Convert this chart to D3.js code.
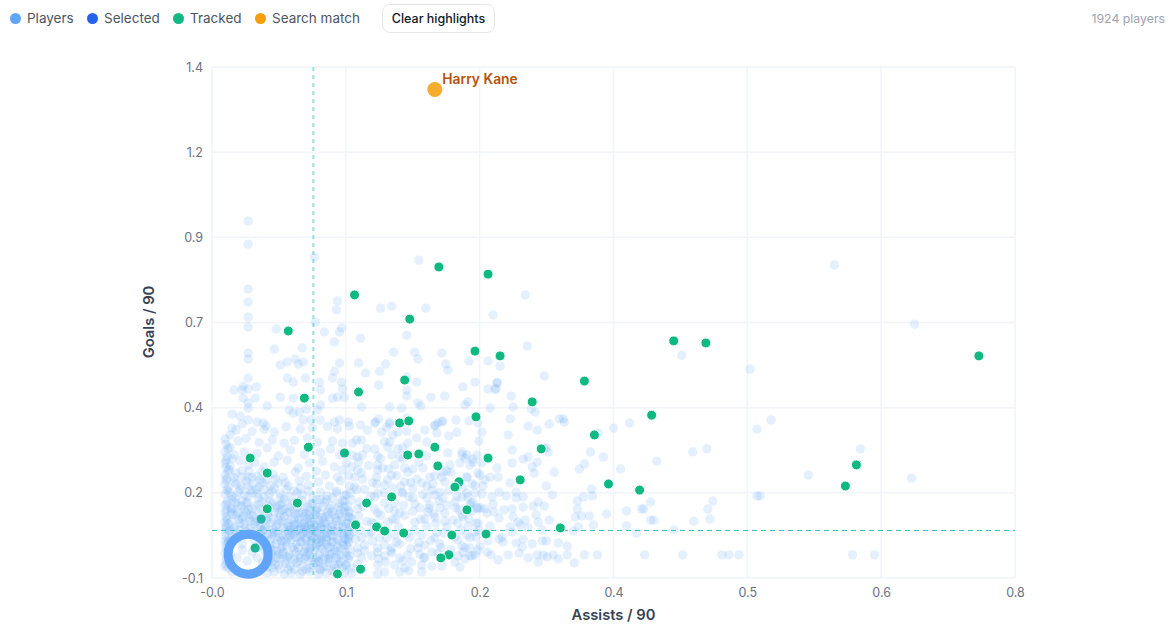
<!DOCTYPE html>
<html>
<head>
<meta charset="utf-8">
<script src="https://cdn.jsdelivr.net/npm/d3@7/dist/d3.min.js"></script>
<style>
body{margin:0;background:#fff;font-family:Inter,"Noto Sans",sans-serif;overflow:hidden;}
#chart{position:absolute;left:0;top:0;}
.legend{position:absolute;top:10px;left:10px;height:16px;font-size:13.5px;color:#4b5563;}
.legend span{position:absolute;top:0;line-height:16px;white-space:nowrap;}
.legend i{position:absolute;top:3px;width:11px;height:11px;border-radius:50%;}
button{position:absolute;left:382px;top:4px;width:113px;height:29px;padding:0;background:#fff;border:1px solid #e5e7eb;border-radius:8px;font:500 12.5px Inter,sans-serif;color:#111827;white-space:nowrap;}
.count{position:absolute;right:9px;top:11px;font-size:12.3px;color:#9ca3af;}
.tick-label{font-size:12.5px;fill:#6b7280;}
.axis-title{font-size:14.7px;font-weight:600;fill:#374151;}
</style>
</head>
<body>
<div class="legend" id="legend"></div>
<button>Clear highlights</button>
<div class="count">1924 players</div>
<svg id="chart" width="1174" height="631"></svg>
<script>
var legendLabels = ["Players","Selected","Tracked","Search match"];
var legendColors = ["#60a5fa","#2563eb","#10b981","#f59e0b"];
var xTickLabels = ["-0.0","0.1","0.2","0.4","0.5","0.6","0.8"];
var yTickLabels = ["-0.1","0.2","0.4","0.7","0.9","1.2","1.4"];
var medianAssists = 0.101, medianGoals = 0.0395;

// [assists/90, goals/90]
var playersTop = [[.036,.948],[.036,.880],[.102,.842],[.206,.833],[.125,.713],[.124,.687],[.168,.692],[.179,.698],[.213,.692],[.280,.672],[.036,.748],[.036,.710],[.036,.666],[.036,.637],[.064,.631],[.103,.651],[.112,.622],[.129,.634],[.127,.622],[.148,.604],[.122,.593],[.194,.613],[.062,.572],[.090,.575],[.036,.560],[.036,.543],[.083,.543],[.075,.534],[.068,.525],[.086,.528],[.091,.534],[.127,.531],[.146,.531],[.181,.563],[.202,.563],[.205,.543],[.229,.560],[.233,.528],[.235,.510],[.256,.537],[.275,.537],[.173,.528],[.167,.507],[.153,.502],[.122,.507],[.120,.487],[.107,.475],[.093,.487],[.081,.475],[.075,.487],[.036,.487],[.031,.463],[.036,.455],[.044,.461],[.022,.452],[.030,.452],[.129,.475],[.108,.452],[.130,.455],[.166,.466],[.194,.490],[.204,.475],[.194,.452],[.194,.434],[.218,.431],[.232,.434],[.250,.461],[.262,.475],[.275,.455],[.283,.455],[.284,.475],[.031,.428],[.043,.428],[.068,.431],[.081,.428],[.125,.431],[.132,.431],[.120,.428],[.108,.408],[.036,.414],[.036,.399],[.055,.405],[.077,.393],[.094,.396],[.105,.393],[.149,.402],[.177,.402],[.189,.399],[.205,.414],[.208,.405],[.252,.408],[.255,.417],[.277,.399],[.020,.381],[.028,.375],[.036,.364],[.081,.384],[.087,.387],[.091,.364],[.099,.364],[.108,.364],[.045,.358],[.051,.355],[.054,.346],[.122,.358],[.127,.364],[.136,.358],[.163,.358],[.166,.367],[.177,.352],[.243,.364],[.230,.361],[.225,.355],[.222,.346],[.256,.361],[.265,.355],[.194,.370]];
var playersRight = [[.312,.731],[.314,.581],[.287,.522],[.331,.493],[.284,.472],[.282,.455],[.298,.434],[.300,.402],[.318,.396],[.322,.387],[.297,.367],[.346,.367],[.350,.367],[.351,.358],[.336,.352],[.315,.346],[.324,.334],[.295,.320],[.400,.340],[.416,.355],[.468,.554],[.536,.513],[.557,.364],[.543,.337],[.385,.326],[.299,.276],[.331,.282],[.377,.270],[.479,.270],[.493,.279],[.620,.819],[.700,.645],[.646,.279],[.594,.202],[.697,.193],[.638,-.032],[.660,-.032],[.546,.141],[.266,.302],[.310,.249],[.315,.255],[.324,.240],[.333,.282],[.335,.270],[.390,.255],[.443,.243],[.299,.238],[.284,.223],[.319,.226],[.321,.208],[.341,.211],[.366,.220],[.371,.235],[.407,.220],[.297,.179],[.333,.170],[.378,.161],[.370,.138],[.379,.141],[.339,.144],[.364,.126],[.437,.123],[.499,.126],[.494,.103],[.543,.141],[.364,.103],[.393,.088],[.413,.097],[.428,.103],[.430,.103],[.368,.082],[.376,.082],[.362,.079],[.336,.070],[.325,.064],[.437,.070],[.440,.070],[.480,.067],[.496,.073],[.413,.053],[.380,.056],[.365,.050],[.360,.038],[.460,.041],[.423,.032],[.345,.003],[.354,-.006],[.329,.009],[.333,.009],[.319,.000],[.303,.003],[.309,-.009],[.354,-.032],[.371,-.032],[.384,-.032],[.431,-.032],[.469,-.032],[.508,-.032],[.515,-.032],[.525,-.032],[.361,-.056],[.345,-.044],[.340,-.032],[.334,-.038],[.330,-.032],[.325,-.053],[.324,-.032],[.315,-.041],[.306,-.027],[.295,-.032],[.285,-.047],[.278,-.032],[.274,-.024],[.262,-.032],[.259,-.035],[.252,-.044],[.247,-.068],[.267,-.006],[.290,.006],[.286,.014],[.275,.009],[.310,.014],[.299,.035],[.289,.020],[.329,.041],[.315,.047],[.307,.056],[.297,.050],[.277,.053],[.263,.020],[.254,.026],[.312,.070],[.305,.064],[.300,.079],[.286,.076],[.281,.094],[.291,.100],[.299,.103],[.310,.108],[.320,.111],[.325,.123],[.331,.111],[.323,.085],[.274,.091],[.263,.061],[.265,.103],[.272,.103],[.280,.117],[.279,.138],[.286,.152],[.293,.141],[.303,.152],[.303,.135],[.310,.138],[.267,.202],[.272,.188],[.277,.196],[.285,.196],[.259,.176],[.262,.173],[.270,.170],[.269,.147],[.254,.149],[.249,.138],[.250,.079],[.260,.240],[.252,.252],[.249,.261],[.264,.261],[.254,.196]];
var playersMiddle = [[.148,.349],[.137,.346],[.162,.355],[.177,.358],[.155,.334],[.169,.328],[.174,.343],[.185,.328],[.194,.331],[.222,.349],[.229,.358],[.212,.334],[.224,.326],[.236,.317],[.244,.328],[.269,.328],[.144,.305],[.140,.296],[.149,.305],[.177,.299],[.175,.284],[.162,.279],[.195,.296],[.204,.311],[.214,.299],[.185,.279],[.190,.282],[.145,.255],[.150,.261],[.165,.258],[.179,.261],[.187,.255],[.214,.258],[.235,.267],[.249,.270],[.254,.261],[.260,.249],[.257,.232],[.269,.238],[.134,.238],[.139,.226],[.149,.208],[.145,.217],[.142,.196],[.165,.232],[.165,.217],[.170,.223],[.182,.232],[.192,.223],[.200,.220],[.210,.223],[.237,.232],[.247,.238],[.164,.196],[.179,.202],[.195,.211],[.217,.196],[.234,.214],[.229,.196],[.254,.196],[.265,.208],[.137,.170],[.142,.167],[.152,.161],[.175,.188],[.172,.173],[.192,.182],[.200,.164],[.209,.179],[.232,.182],[.245,.173],[.162,.138],[.165,.149],[.180,.164],[.189,.152],[.200,.135],[.190,.149],[.219,.158],[.227,.152],[.222,.144],[.230,.135],[.214,.135],[.242,.123],[.255,.138],[.260,.123],[.139,.129],[.134,.144],[.147,.123],[.172,.120],[.191,.114],[.202,.117],[.217,.114],[.234,.114],[.243,.106],[.257,.114],[.264,.106],[.132,.109],[.137,.091],[.145,.103],[.162,.103],[.165,.091],[.182,.097],[.187,.091],[.207,.106],[.215,.094],[.221,.088],[.227,.106],[.249,.085],[.259,.097],[.267,.106],[.139,.073],[.159,.064],[.175,.064],[.183,.073],[.202,.064],[.212,.073],[.223,.061],[.232,.067],[.245,.061],[.255,.053],[.265,.061],[.137,.026],[.141,.035],[.149,.018],[.159,.035],[.167,.018],[.182,.026],[.197,.018],[.209,.026],[.222,.018],[.231,.032],[.245,.012],[.257,.018],[.262,.035],[.134,-.003],[.145,-.012],[.152,-.003],[.165,-.012],[.172,-.003],[.179,-.012],[.187,.000],[.205,-.012],[.212,-.003],[.219,-.024],[.227,.000],[.249,-.006],[.257,-.012],[.265,-.018],[.137,-.035],[.145,-.027],[.149,-.041],[.159,-.035],[.165,-.024],[.172,-.035],[.179,-.027],[.187,-.041],[.195,-.032],[.207,-.030],[.211,-.041],[.225,-.027],[.245,-.035],[.250,-.024],[.257,-.035],[.134,-.062],[.139,-.071],[.145,-.059],[.165,-.062],[.173,-.053],[.182,-.062],[.192,-.071],[.199,-.053],[.209,-.062],[.219,-.065],[.229,-.065],[.242,-.053],[.139,-.085],[.165,-.088],[.172,-.082],[.187,-.082],[.196,-.079],[.209,-.082]];
var playersLeft = [[.013,.308],[.020,.340],[.030,.352],[.040,.330],[.052,.336],[.062,.329],[.074,.344],[.088,.337],[.100,.340],[.115,.345],[.125,.338],
[.014,.293],[.018,.284],[.026,.302],[.034,.310],[.047,.298],[.060,.305],[.072,.296],[.082,.304],[.095,.311],[.105,.298],[.120,.302],[.130,.296],
[.013,.270],[.015,.255],[.022,.262],[.032,.270],[.045,.265],[.055,.282],[.066,.258],[.078,.276],[.092,.262],[.108,.268],[.118,.279],[.127,.262],
[.013,.238],[.018,.229],[.028,.244],[.036,.232],[.043,.238],[.052,.226],[.062,.240],[.075,.246],[.086,.223],[.097,.238],[.110,.243],[.122,.226],[.130,.217],
[.013,.202],[.016,.214],[.024,.208],[.030,.196],[.037,.214],[.045,.199],[.050,.212],[.061,.205],[.071,.196],[.083,.211],[.094,.199],[.104,.214],[.113,.202],[.125,.196],
[.013,.176],[.014,.188],[.022,.182],[.029,.170],[.034,.185],[.041,.176],[.047,.167],[.054,.188],[.066,.179],[.076,.170],[.087,.185],[.096,.173],[.106,.182],[.117,.170],[.128,.185],
[.013,.147],[.015,.158],[.020,.140],[.026,.152],[.032,.144],[.038,.158],[.045,.147],[.052,.138],[.060,.155],[.068,.147],[.077,.138],[.082,.155],[.090,.144],[.100,.135],[.108,.152],[.115,.141],[.124,.155],[.132,.144],
[.013,.114],[.015,.126],[.019,.103],[.024,.120],[.029,.111],[.035,.123],[.040,.103],[.047,.117],[.058,.126],[.064,.106],[.070,.120],[.078,.111],[.085,.123],[.091,.103],[.098,.117],[.105,.106],[.112,.123],[.119,.111],[.127,.120],
[.013,.091],[.014,.079],[.019,.094],[.024,.085],[.030,.073],[.034,.094],[.041,.082],[.047,.091],[.056,.079],[.062,.094],[.068,.082],[.075,.091],[.082,.073],[.086,.088],[.092,.079],[.098,.097],[.103,.085],[.110,.076],[.115,.094],[.122,.085],[.130,.079],[.136,.097],
[.013,.064],[.014,.053],[.019,.067],[.023,.050],[.028,.061],[.033,.047],[.038,.067],[.046,.056],[.052,.044],[.058,.061],[.064,.050],[.070,.067],[.076,.053],[.081,.044],[.087,.061],[.092,.050],[.097,.067],[.102,.056],[.108,.044],[.113,.061],[.119,.050],[.124,.067],[.130,.053],[.136,.061],
[.013,.035],[.014,.023],[.018,.041],[.024,.029],[.040,.035],[.045,.023],[.051,.038],[.056,.026],[.062,.035],[.067,.020],[.073,.038],[.078,.026],[.083,.035],[.088,.023],[.094,.038],[.099,.026],[.104,.035],[.109,.020],[.115,.032],[.120,.023],[.125,.038],[.131,.029],[.136,.020],
[.013,.009],[.014,-.003],[.018,.012],[.048,.006],[.053,-.006],[.058,.012],[.064,.000],[.069,.009],[.074,-.006],[.079,.012],[.084,.000],[.089,.006],[.094,-.009],[.099,.009],[.104,-.003],[.109,.012],[.114,.000],[.119,.006],[.125,-.009],[.130,.003],[.135,.012],
[.013,-.027],[.014,-.015],[.015,-.041],[.030,-.018],[.040,-.024],[.055,-.032],[.061,-.018],[.066,-.032],[.071,-.024],[.077,-.032],[.082,-.015],[.087,-.032],[.092,-.024],[.097,-.032],[.102,-.018],[.107,-.032],[.112,-.024],[.117,-.032],[.122,-.018],[.128,-.032],[.133,-.024],
[.014,-.059],[.016,-.071],[.025,-.041],[.035,-.050],[.045,-.041],[.050,-.056],[.055,-.068],[.060,-.053],[.066,-.062],[.073,-.050],[.078,-.065],[.084,-.056],[.090,-.065],[.096,-.050],[.101,-.062],[.106,-.050],[.111,-.068],[.117,-.056],[.122,-.065],[.128,-.053],[.133,-.062],
[.020,-.082],[.055,-.085],[.062,-.082],[.072,-.088],[.079,-.085],[.088,-.088],[.097,-.082],[.106,-.088],[.114,-.085],[.120,-.079],[.132,-.085]];
// second pass over the dense patch left of 0.14 assists
var playersDense = [[.014,.100],[.020,.130],[.026,.090],[.032,.100],[.037,.076],[.042,.058],[.048,.030],[.054,.070],[.060,.032],[.066,.070],[.072,.012],[.078,.050],[.084,.060],[.090,.030],[.096,.056],[.102,.020],[.108,.060],[.114,.020],[.120,.040],[.126,.010],[.132,.030],[.088,.044],[.100,.044],[.112,.042],[.076,.034],[.094,.012],[.106,.004],[.118,-.008],[.086,-.012],[.098,-.012],[.110,-.014],[.124,-.022],[.070,-.008],[.064,-.020],[.058,-.012],[.050,.012],[.020,.020],[.016,.060],[.028,.040],[.034,.120],[.040,.150],[.046,.135],[.052,.160],[.070,.100],[.082,.100],[.094,.090],[.104,.100],[.116,.086],[.128,.100],[.016,.165],[.022,.195],[.030,.215],[.040,.195],[.050,.180],[.058,.170],[.068,.135],[.074,.160],[.088,.165],[.096,.155],[.108,.130],[.120,.135],[.132,.125],[.014,.225],[.020,.250],[.016,.280],[.018,.320],[.024,.335],[.014,.045],[.016,.010],[.018,-.030],[.018,-.060],[.052,-.020],[.058,-.044],[.068,-.044],[.082,-.045],[.092,-.044],[.104,-.040],[.116,-.044],[.126,-.044],[.136,-.044],[.060,-.070],[.076,-.075],[.094,-.074],[.108,-.076],[.124,-.072],[.136,.006],[.138,.050],[.136,.080],[.020,.105],[.027,.072],[.033,.025],[.042,.012],[.047,.072],[.056,.096],[.065,.112]];
// third pass, the darker core of the cloud
var playersCore = [[.015,.072],[.017,.038],[.015,.118],[.017,.152],[.015,.192],[.017,.218],[.014,.246],[.016,.004],[.014,-.048],[.016,-.020],[.013,-.066],[.022,.044],[.025,.016],[.021,.088],[.026,.112],[.023,.135],[.028,.160],[.024,.176],[.032,.058],[.031,.082],[.030,.126],[.034,.035],[.036,.101],[.036,.140],[.036,.170],[.036,.196],[.038,.048],[.039,.086],[.043,.030],[.044,.066],[.042,.112],[.044,.160],[.048,.050],[.049,.103],[.050,.125],[.048,.188],[.052,.020],[.054,.052],[.055,.088],[.056,.112],[.057,.146],[.056,.204],[.058,-.002],[.060,.024],[.061,.044],[.061,.073],[.060,.120],[.062,.164],[.063,.190],[.064,-.040],[.065,.010],[.065,.034],[.066,.058],[.067,.092],[.068,.114],[.069,-.014],[.070,.026],[.071,.048],[.072,.080],[.073,.104],[.072,.132],[.073,.180],[.074,.006],[.075,-.036],[.075,.062],[.076,.018],[.077,.094],[.078,.040],[.079,.072],[.080,-.010],[.080,.120],[.081,.028],[.082,.056],[.083,.088],[.084,-.024],[.084,.018],[.085,.108],[.085,.150],[.086,.040],[.087,.074],[.088,-.040],[.088,.008],[.089,.052],[.090,.090],[.090,.128],[.091,.034],[.092,.062],[.093,-.014],[.093,.016],[.094,.048],[.095,.108],[.095,.074],[.096,-.024],[.096,.030],[.097,.085],[.098,.002],[.098,.042],[.099,.062],[.100,-.040],[.100,.118],[.100,.016],[.101,.076],[.102,.038],[.103,-.010],[.103,.094],[.104,.052],[.104,.130],[.105,.014],[.106,.070],[.106,-.054],[.107,.030],[.108,.088],[.108,-.006],[.109,.050],[.110,.110],[.110,.004],[.111,.066],[.112,-.040],[.112,.028],[.113,.080],[.114,.012],[.114,.130],[.115,.046],[.116,-.012],[.117,.104],[.117,.070],[.118,.026],[.119,-.028],[.120,.058],[.120,.094],[.121,.006],[.122,.036],[.123,.076],[.124,.150],[.124,-.040],[.125,.014],[.126,.054],[.126,.108],[.127,.088],[.128,-.014],[.129,.032],[.129,.070],[.130,.128],[.131,-.004],[.131,.046],[.132,.094],[.133,.014],[.134,-.036],[.134,.060],[.135,.110],[.136,.036],[.137,-.016],[.138,.076],[.138,.150],[.030,.000],[.046,-.010],[.050,.040],[.056,-.050],[.060,-.030],[.063,-.060],[.068,-.074],[.070,-.030],[.074,-.058],[.078,-.040],[.082,-.074],[.086,-.052],[.090,-.080],[.094,-.036],[.098,-.070],[.103,-.056],[.107,-.074],[.110,-.046],[.114,-.066],[.118,-.042],[.122,-.084],[.126,-.060],[.130,-.070]];
var playersCoreRight = [[.140,.050],[.143,.014],[.146,.082],[.148,.040],[.150,.110],[.152,-.020],[.154,.066],[.156,.030],[.158,.140],[.160,.008],[.162,.060],[.164,.176],[.166,-.044],[.168,.084],[.170,.040],[.172,.150],[.174,.018],[.176,.104],[.178,-.020],[.180,.072],[.182,.120],[.184,.006],[.186,.050],[.188,.170],[.190,-.050],[.192,.084],[.194,.030],[.196,.138],[.198,-.014],[.200,.096],[.202,.040],[.204,.190],[.206,.004],[.208,.072],[.210,.146],[.212,-.040],[.214,.052],[.216,.104],[.218,.010],[.220,.176],[.222,.078],[.224,.034],[.226,.126],[.228,-.010],[.230,.210],[.232,.090],[.234,.050],[.236,.156],[.238,-.016],[.240,.070],[.242,.020],[.244,.140],[.246,.100],[.248,.040],[.250,.166],[.252,-.010],[.256,.074],[.258,.120],[.262,.150],[.266,.040],[.144,.160],[.150,.190],[.156,.230],[.160,.180],[.168,.250],[.176,.220],[.184,.200],[.190,.250],[.198,.180],[.206,.240],[.214,.170],[.222,.200],[.238,.210],[.136,.200],[.140,.260],[.146,.240],[.154,.280],[.172,.300],[.180,.320]];
var tracked = [[.038,.252],[.055,.208],[.055,.103],[.085,.120],[.076,.625],[.092,.428],[.096,.284],[.125,-.088],[.148,-.074],[.142,.731],[.146,.446],[.143,.056],[.154,.120],[.164,.050],[.172,.038],[.179,.138],[.191,.032],[.187,.355],[.196,.361],[.192,.481],[.197,.660],[.195,.261],[.206,.264],[.222,.284],[.226,.813],[.225,.229],[.275,.792],[.263,.373],[.262,.566],[.287,.552],[.319,.417],[.371,.478],[.328,.279],[.275,.252],[.242,.167],[.254,.100],[.307,.188],[.239,.026],[.228,-.041],[.273,.029],[.347,.047],[.381,.320],[.395,.176],[.426,.158],[.438,.378],[.460,.596],[.492,.590],[.764,.552],[.642,.232],[.631,.170]];
// these sit under the player layer in the picture
var trackedUnder = [[.132,.267],[.049,.073],[.043,-.012],[.236,-.032],[.246,.182]];
var selectedRing = [.036,-.030];
var searchMatch = {name:"Harry Kane", assists:.222, goals:1.334};

var players = playersTop.concat(playersRight, playersMiddle, playersLeft, playersDense, playersCore, playersCoreRight);

var x = d3.scaleLinear().domain([0,.8]).range([212,1015]);
var y = d3.scaleLinear().domain([-.1,1.4]).range([578,67]);
var xTicks = xTickLabels.map(function(d,i){ return i*.8/6; });
var yTicks = yTickLabels.map(function(d,i){ return -.1+i*.25; });

var legend = d3.select('#legend');
var legendX = [0,77,163,245];
legendLabels.forEach(function(d,i){
	legend.append('i').style('left',legendX[i]+'px').style('background',legendColors[i]);
	legend.append('span').style('left',(legendX[i]+17)+'px').text(d);
});

var svg = d3.select('#chart');

var grid = svg.append('g').attr('stroke','#f1f4f9').attr('stroke-width',1.5);
grid.selectAll('.gx').data(xTicks).enter().append('line')
	.attr('x1',function(d){return x(d);}).attr('x2',function(d){return x(d);})
	.attr('y1',y(1.4)).attr('y2',y(-.1));
grid.selectAll('.gy').data(yTicks).enter().append('line')
	.attr('y1',function(d){return y(d);}).attr('y2',function(d){return y(d);})
	.attr('x1',x(0)).attr('x2',x(.8));

var xAxis = d3.axisBottom(x).tickValues(xTicks).tickSize(0).tickPadding(10)
	.tickFormat(function(d,i){return xTickLabels[i];});
var yAxis = d3.axisLeft(y).tickValues(yTicks).tickSize(0).tickPadding(9)
	.tickFormat(function(d,i){return yTickLabels[i];});
var gx = svg.append('g').attr('transform','translate(0,578)').call(xAxis);
var gy = svg.append('g').attr('transform','translate(212,0)').call(yAxis);
[gx,gy].forEach(function(g){
	g.select('.domain').remove();
	g.selectAll('text').attr('class','tick-label').attr('font-family',null).attr('font-size',null);
});
gx.attr('font-family',null).attr('font-size',null);
gy.attr('font-family',null).attr('font-size',null);

svg.selectAll('.under').data(trackedUnder).enter().append('circle')
	.attr('cx',function(d){return x(d[0]);}).attr('cy',function(d){return y(d[1]);})
	.attr('r',4.6).attr('fill','#10b981');

svg.append('g').selectAll('circle').data(players).enter().append('circle')
	.attr('cx',function(d){return x(d[0]);}).attr('cy',function(d){return y(d[1]);})
	.attr('r',4.7).attr('fill','#60a5fa').attr('fill-opacity',.17);

svg.append('line').attr('x1',x(medianAssists)).attr('x2',x(medianAssists))
	.attr('y1',y(1.4)).attr('y2',y(-.1))
	.attr('stroke','#5ec8c8').attr('stroke-opacity',.6).attr('stroke-width',2).attr('stroke-dasharray','4 4');
svg.append('line').attr('x1',x(0)).attr('x2',x(.8))
	.attr('y1',y(medianGoals)).attr('y2',y(medianGoals))
	.attr('stroke','#2ec4c4').attr('stroke-width',1).attr('stroke-dasharray','5 4');

svg.append('circle').attr('cx',x(selectedRing[0])).attr('cy',y(selectedRing[1]))
	.attr('r',20).attr('fill','none').attr('stroke','#60a5fa').attr('stroke-width',9);

svg.append('g').selectAll('circle').data(tracked).enter().append('circle')
	.attr('cx',function(d){return x(d[0]);}).attr('cy',function(d){return y(d[1]);})
	.attr('r',5).attr('fill','#10b981').attr('stroke','#fff').attr('stroke-width',1);

svg.append('circle').attr('cx',x(searchMatch.assists)).attr('cy',y(searchMatch.goals))
	.attr('r',7.5).attr('fill','#f59e0b').attr('fill-opacity',.85);
svg.append('text').attr('x',x(searchMatch.assists)+7.5).attr('y',y(searchMatch.goals)-5)
	.attr('font-size',13.8).attr('font-weight',600).attr('fill','#b45309').text(searchMatch.name);

svg.append('text').attr('class','axis-title').attr('text-anchor','middle')
	.attr('x',613.5).attr('y',620).text('Assists / 90');
svg.append('text').attr('class','axis-title').attr('text-anchor','middle')
	.attr('transform','translate(154,322) rotate(-90)').text('Goals / 90');
</script>
</body>
</html>
